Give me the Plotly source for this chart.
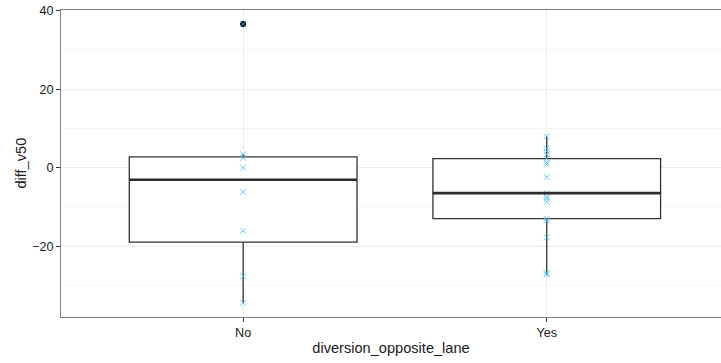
import numpy as np
import plotly.graph_objects as go

# diff_v50 observations per diversion_opposite_lane group
categories = ["No", "Yes"]
diff_no = [36.6, 3.4, 2.5, 0.0, -6.2, -16.1, -27.7, -34.5]
diff_yes = [7.9, 4.9, 4.2, 3.4, 2.3, 1.4, 0.8, -2.4, -6.5, -7.4, -8.0, -8.7,
            -13.0, -13.5, -17.8, -26.9, -27.3]
groups = [diff_no, diff_yes]

y_ticks = [-20, 0, 20, 40]

BOX_W = 0.75
POINT_COLOR = "rgba(75,190,240,0.8)"
LINE_COLOR = "#333333"
FONT = "Liberation Sans, Arial, sans-serif"
TICK_SIZE = 12.6
TITLE_SIZE = 14.6


def box_stats(vals):
    v = np.asarray(vals, dtype=float)
    q1, med, q3 = np.percentile(v, [25, 50, 75])
    iqr = q3 - q1
    lo_f, hi_f = q1 - 1.5 * iqr, q3 + 1.5 * iqr
    inside = v[(v >= lo_f) & (v <= hi_f)]
    out = v[(v < lo_f) | (v > hi_f)]
    return q1, med, q3, inside.min(), inside.max(), out


fig = go.Figure()
shapes = []
for i, (cat, vals) in enumerate(zip(categories, groups)):
    q1, med, q3, lo, hi, out = box_stats(vals)
    fig.add_trace(go.Box(
        x=[cat], q1=[q1], median=[med], q3=[q3],
        lowerfence=[lo], upperfence=[hi],
        width=BOX_W, whiskerwidth=0, boxpoints=False,
        fillcolor="white", line=dict(color=LINE_COLOR, width=1.3),
        showlegend=False, hoverinfo="skip",
    ))
    # thicker median bar
    shapes.append(dict(type="line", xref="x", yref="y",
                       x0=i - BOX_W / 2, x1=i + BOX_W / 2, y0=med, y1=med,
                       line=dict(color="#2b2b2b", width=2.6), layer="above"))
    if len(out):
        fig.add_trace(go.Scatter(
            x=[cat] * len(out), y=out, mode="markers",
            marker=dict(symbol="circle", size=6, color="black"),
            showlegend=False, hoverinfo="skip",
        ))

for cat, vals in zip(categories, groups):
    fig.add_trace(go.Scatter(
        x=[cat] * len(vals), y=vals, mode="markers",
        marker=dict(symbol="x-thin", size=6,
                    line=dict(color=POINT_COLOR, width=1.0)),
        showlegend=False, hoverinfo="skip",
    ))

all_vals = np.concatenate([np.asarray(g, float) for g in groups])
span = all_vals.max() - all_vals.min()
y_range = [all_vals.min() - 0.05 * span, all_vals.max() + 0.05 * span]

fig.update_layout(
    width=721, height=363,
    margin=dict(l=61, r=0, t=10, b=46),
    paper_bgcolor="white", plot_bgcolor="white",
    font=dict(family=FONT, size=TICK_SIZE, color="#1a1a1a"),
    shapes=shapes,
    annotations=[dict(
        text="diff_v50", textangle=-90, showarrow=False,
        xref="paper", yref="paper", x=-0.062, y=0.5,
        xanchor="center", yanchor="middle",
        font=dict(size=TITLE_SIZE, color="#1a1a1a"),
    )],
    xaxis=dict(
        type="category", categoryorder="array", categoryarray=categories,
        range=[-0.6, 1.574],
        showgrid=True, gridcolor="#EBEBEB", gridwidth=1,
        showline=True, linecolor="#808080", linewidth=1, mirror=True,
        ticks="outside", ticklen=4, tickcolor="#333333",
        tickfont=dict(size=TICK_SIZE, color="#1a1a1a"),
        title=dict(text="diversion_opposite_lane",
                   font=dict(size=TITLE_SIZE), standoff=3),
        zeroline=False,
    ),
    yaxis=dict(
        range=y_range, tickvals=y_ticks,
        ticktext=[("\u2212" + str(-t)) if t < 0 else str(t) for t in y_ticks],
        showgrid=True, gridcolor="#EBEBEB", gridwidth=1,
        minor=dict(tickvals=[-30, -10, 10, 30], showgrid=True,
                   gridcolor="#F6F6F6", gridwidth=1, ticks=""),
        showline=True, linecolor="#808080", linewidth=1, mirror=False,
        ticks="outside", ticklen=4, tickcolor="#333333",
        tickfont=dict(size=TICK_SIZE, color="#1a1a1a"),
        zeroline=False,
    ),
)

fig.write_html("out.html")
